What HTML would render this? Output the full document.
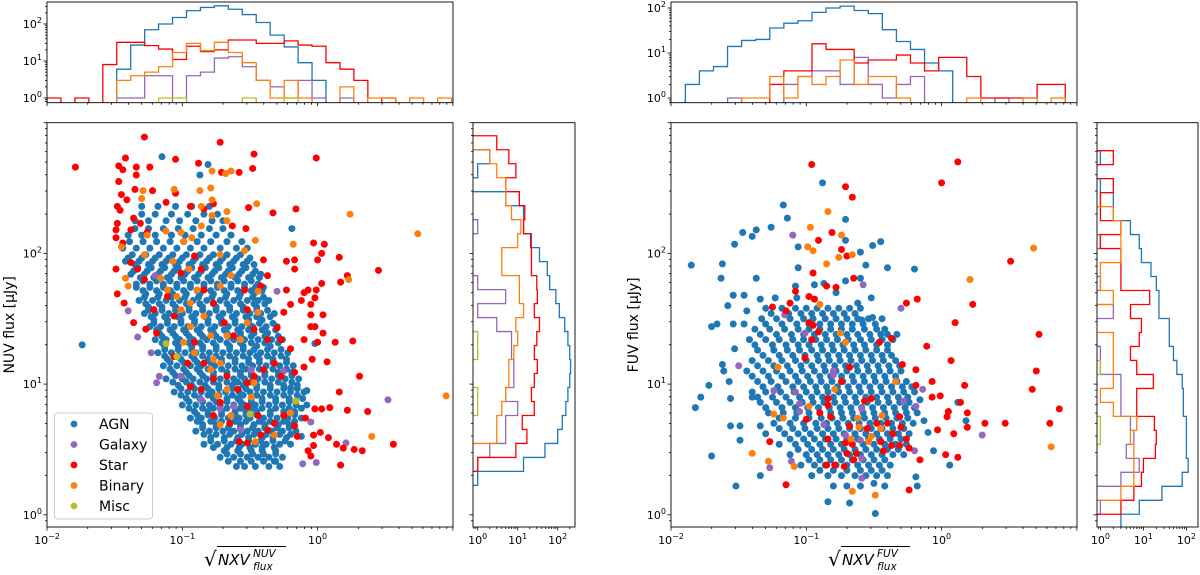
<!DOCTYPE html>
<html><head><meta charset="utf-8"><title>NXV vs flux</title>
<style>
html,body{margin:0;padding:0;background:#fff;width:1200px;height:575px;overflow:hidden}
svg{display:block;font-family:"DejaVu Sans","Liberation Sans",sans-serif}
</style></head>
<body>
<svg id="fig" width="1200" height="575" viewBox="0 0 1200 575" xmlns="http://www.w3.org/2000/svg"></svg>
<script>
// ===== DATA (log10 units) =====
// NUV panel — AGN dense rows: [log10 flux, log10 NXV, log10 NXV, ...]
const agnNuvRows = [
[2.36,-1.30,-1.18,-1.05,-0.93,-0.80],
[2.25,-1.35,-1.25,-1.12,-1.02,-0.90,-0.78,-0.70],
[2.14,-1.40,-1.30,-1.20,-1.08,-0.98,-0.86,-0.75,-0.64],
[2.04,-1.44,-1.34,-1.24,-1.14,-1.04,-0.94,-0.84,-0.72,-0.60,-0.52],
[1.99,-1.37,-1.27,-1.17,-1.07,-0.97,-0.87,-0.77,-0.67,-0.57],
[1.94,-1.42,-1.32,-1.22,-1.12,-1.02,-0.92,-0.82,-0.72,-0.62,-0.52],
[1.89,-1.33,-1.23,-1.13,-1.03,-0.93,-0.83,-0.73,-0.63,-0.53],
[1.84,-1.38,-1.28,-1.18,-1.08,-0.98,-0.88,-0.78,-0.68,-0.58,-0.48,-0.42],
[1.79,-1.29,-1.19,-1.09,-0.99,-0.89,-0.79,-0.69,-0.59,-0.49],
[1.74,-1.34,-1.24,-1.14,-1.04,-0.94,-0.84,-0.74,-0.64,-0.54,-0.46,-0.40],
[1.69,-1.27,-1.17,-1.07,-0.97,-0.87,-0.77,-0.67,-0.57,-0.47],
[1.64,-1.32,-1.22,-1.12,-1.02,-0.92,-0.82,-0.72,-0.62,-0.52,-0.44,-0.36],
[1.59,-1.25,-1.15,-1.05,-0.95,-0.85,-0.75,-0.65,-0.55,-0.45],
[1.54,-1.28,-1.20,-1.10,-1.00,-0.90,-0.80,-0.70,-0.60,-0.50,-0.42,-0.32],
[1.49,-1.21,-1.11,-1.01,-0.91,-0.81,-0.71,-0.61,-0.51,-0.41],
[1.44,-1.24,-1.16,-1.06,-0.96,-0.86,-0.76,-0.66,-0.56,-0.48,-0.38,-0.30],
[1.39,-1.17,-1.07,-0.97,-0.87,-0.77,-0.67,-0.57,-0.47,-0.37],
[1.34,-1.20,-1.12,-1.02,-0.92,-0.82,-0.72,-0.62,-0.54,-0.44,-0.34,-0.26],
[1.29,-1.13,-1.03,-0.93,-0.85,-0.75,-0.65,-0.55,-0.45,-0.35],
[1.24,-1.18,-1.08,-0.98,-0.90,-0.80,-0.70,-0.60,-0.50,-0.42,-0.32,-0.22],
[1.19,-1.11,-1.01,-0.91,-0.81,-0.71,-0.61,-0.51,-0.43,-0.33,-0.23],
[1.14,-1.14,-1.04,-0.94,-0.86,-0.76,-0.66,-0.56,-0.48,-0.38,-0.28,-0.18],
[1.09,-1.07,-0.97,-0.87,-0.77,-0.67,-0.57,-0.49,-0.39,-0.29,-0.19],
[1.04,-1.12,-1.00,-0.92,-0.82,-0.72,-0.62,-0.54,-0.44,-0.34,-0.24,-0.14],
[0.99,-1.03,-0.93,-0.83,-0.73,-0.63,-0.55,-0.45,-0.35,-0.25,-0.15],
[0.94,-1.06,-0.96,-0.86,-0.78,-0.68,-0.58,-0.50,-0.40,-0.30,-0.20,-0.10],
[0.89,-0.97,-0.87,-0.77,-0.67,-0.59,-0.49,-0.41,-0.31,-0.21,-0.11],
[0.84,-1.00,-0.90,-0.80,-0.72,-0.62,-0.54,-0.46,-0.36,-0.26,-0.16,-0.08],
[0.79,-0.91,-0.81,-0.71,-0.61,-0.53,-0.45,-0.35,-0.25,-0.17],
[0.74,-0.94,-0.86,-0.76,-0.66,-0.58,-0.50,-0.40,-0.30,-0.22,-0.12],
[0.69,-0.85,-0.75,-0.65,-0.57,-0.47,-0.39,-0.29,-0.21],
[0.64,-0.90,-0.80,-0.70,-0.62,-0.52,-0.44,-0.34,-0.26,-0.16],
[0.59,-0.79,-0.69,-0.59,-0.51,-0.41,-0.33,-0.23],
[0.54,-0.84,-0.74,-0.64,-0.56,-0.46,-0.38,-0.28,-0.20],
[0.49,-0.69,-0.59,-0.49,-0.41,-0.31],
[0.44,-0.72,-0.62,-0.52,-0.44,-0.36,-0.26],
[0.37,-0.60,-0.54,-0.46,-0.36,-0.28]
];
const agnNuvFill = [
[2.30,-1.30,-1.20,-1.08,-0.96,-0.84,-0.74],
[2.19,-1.35,-1.25,-1.14,-1.03,-0.92,-0.80,-0.70],
[2.09,-1.39,-1.29,-1.19,-1.09,-0.99,-0.89,-0.79,-0.67,-0.56],
[1.965,-1.40,-1.30,-1.20,-1.10,-1.00,-0.90,-0.80,-0.70,-0.60,-0.50],
[1.915,-1.35,-1.25,-1.15,-1.05,-0.95,-0.85,-0.75,-0.65,-0.55,-0.47],
[1.865,-1.36,-1.26,-1.16,-1.06,-0.96,-0.86,-0.76,-0.66,-0.56,-0.46],
[1.815,-1.31,-1.21,-1.11,-1.01,-0.91,-0.81,-0.71,-0.61,-0.51,-0.43],
[1.765,-1.34,-1.24,-1.14,-1.04,-0.94,-0.84,-0.74,-0.64,-0.54,-0.44],
[1.715,-1.29,-1.19,-1.09,-0.99,-0.89,-0.79,-0.69,-0.59,-0.49,-0.41],
[1.665,-1.28,-1.18,-1.08,-0.98,-0.88,-0.78,-0.68,-0.58,-0.48,-0.40],
[1.615,-1.27,-1.17,-1.07,-0.97,-0.87,-0.77,-0.67,-0.57,-0.47,-0.39],
[1.565,-1.25,-1.15,-1.05,-0.95,-0.85,-0.75,-0.65,-0.55,-0.45,-0.37],
[1.515,-1.23,-1.13,-1.03,-0.93,-0.83,-0.73,-0.63,-0.53,-0.45,-0.35],
[1.465,-1.21,-1.11,-1.01,-0.91,-0.81,-0.71,-0.61,-0.51,-0.43,-0.33],
[1.415,-1.19,-1.09,-0.99,-0.89,-0.79,-0.69,-0.59,-0.51,-0.41,-0.31],
[1.365,-1.15,-1.05,-0.95,-0.85,-0.75,-0.65,-0.57,-0.49,-0.39,-0.29],
[1.315,-1.15,-1.05,-0.95,-0.87,-0.77,-0.67,-0.57,-0.49,-0.39,-0.29],
[1.265,-1.13,-1.03,-0.93,-0.85,-0.75,-0.65,-0.55,-0.47,-0.37,-0.27],
[1.215,-1.13,-1.03,-0.93,-0.85,-0.75,-0.65,-0.55,-0.45,-0.37,-0.27],
[1.165,-1.09,-0.99,-0.89,-0.79,-0.71,-0.61,-0.51,-0.43,-0.33,-0.23],
[1.115,-1.09,-0.99,-0.89,-0.81,-0.71,-0.61,-0.53,-0.43,-0.33,-0.23],
[1.065,-1.05,-0.95,-0.85,-0.77,-0.67,-0.57,-0.49,-0.39,-0.29,-0.19],
[1.015,-1.07,-0.97,-0.87,-0.77,-0.67,-0.59,-0.49,-0.39,-0.29,-0.19],
[0.965,-1.01,-0.91,-0.81,-0.73,-0.63,-0.53,-0.45,-0.35,-0.25,-0.15],
[0.915,-1.01,-0.91,-0.81,-0.73,-0.63,-0.55,-0.45,-0.35,-0.25,-0.15],
[0.865,-0.95,-0.85,-0.75,-0.67,-0.57,-0.49,-0.41,-0.31,-0.21],
[0.815,-0.95,-0.85,-0.77,-0.67,-0.57,-0.49,-0.41,-0.31,-0.21,-0.12],
[0.765,-0.89,-0.81,-0.71,-0.61,-0.53,-0.45,-0.35,-0.25,-0.17],
[0.715,-0.89,-0.79,-0.71,-0.61,-0.53,-0.43,-0.35,-0.25,-0.17],
[0.665,-0.85,-0.75,-0.66,-0.57,-0.48,-0.39,-0.30,-0.21],
[0.615,-0.84,-0.75,-0.65,-0.56,-0.47,-0.38,-0.28,-0.20],
[0.565,-0.79,-0.69,-0.60,-0.51,-0.42,-0.33,-0.24],
[0.515,-0.77,-0.67,-0.58,-0.50,-0.41,-0.32],
[0.465,-0.67,-0.57,-0.48,-0.40,-0.31],
[0.41,-0.66,-0.57,-0.49,-0.40,-0.31]
];
// NUV panel scatter pairs: [log10 NXV, log10 flux]
const agnNuvExtra = [[-1.74,1.30],[-1.15,2.74],[-0.81,2.68],[-0.87,2.60],[-0.19,2.19],[-0.02,1.31],[-0.20,0.97],[-0.32,0.41],[-0.12,0.60],[-0.08,0.95]];
const galaxyNuv = [[-0.30,1.71],[-1.33,1.36],[-1.23,1.24],[-1.19,1.01],[-1.17,1.06],[-1.40,1.56],[-1.20,1.83],[-0.25,1.10],[0.52,0.88],[-0.05,0.71],[0.21,0.55],[-0.01,0.40],[-0.11,0.39],[-0.86,0.88],[-0.72,0.81],[-0.57,0.65],[-0.49,1.11],[-0.62,0.83],[-1.01,1.06]];
const starNuv = [[-1.79,2.66],[-1.28,2.89],[-0.72,2.85],[-0.47,2.76],[-0.01,2.73],[-1.42,2.73],[-1.47,2.67],[-1.34,2.66],[-1.24,2.66],[-1.05,2.72],[-0.88,2.69],[-0.58,2.62],[-0.48,2.65],[-0.71,2.62],[-1.44,2.64],[-1.34,2.60],[-1.47,2.55],[-1.35,2.49],[-1.22,2.48],[-1.45,2.45],[-1.41,2.41],[-1.48,2.36],[-1.46,2.33],[-1.48,2.23],[-1.49,2.18],[-1.49,2.12],[-1.44,2.08],[-1.38,2.18],[-1.36,2.27],[-1.31,2.23],[-1.26,2.16],[-1.12,2.39],[-1.05,2.46],[-0.94,2.36],[-0.84,2.34],[-0.77,2.38],[-0.63,2.21],[-0.53,2.19],[-0.51,2.35],[-0.33,2.31],[-0.16,2.34],[-1.49,1.88],[-1.48,1.69],[-1.43,1.62],[-1.36,1.47],[-1.38,1.93],[-1.33,1.88],[-1.28,1.80],[-1.27,1.42],[-1.19,1.39],[-1.21,1.57],[-1.11,1.67],[-1.06,1.52],[-1.01,1.85],[-0.91,1.98],[-0.86,1.88],[-0.84,1.72],[-0.77,1.62],[-0.69,1.47],[-0.62,1.37],[-0.54,1.72],[-0.52,1.57],[-0.47,1.42],[-0.40,1.95],[-0.37,1.83],[-0.42,1.75],[-0.23,1.94],[-0.17,1.95],[-0.17,1.88],[-0.03,2.08],[0.05,2.07],[0.03,2.00],[0.00,1.95],[0.16,1.97],[0.45,1.87],[0.17,1.78],[0.22,1.83],[0.03,1.77],[-0.01,1.72],[-0.07,1.72],[-0.10,1.70],[-0.23,1.72],[-0.20,1.61],[-0.12,1.64],[-0.05,1.61],[-0.02,1.66],[-0.05,1.53],[0.04,1.53],[-0.02,1.44],[0.04,1.39],[-0.05,1.44],[-0.25,1.55],[-0.30,1.43],[-0.37,1.34],[-0.27,1.34],[-0.20,1.27],[-0.10,1.34],[0.00,1.32],[0.13,1.32],[0.26,1.33],[0.07,1.17],[-0.04,1.19],[-0.10,1.13],[-0.17,1.09],[-0.27,1.06],[-0.32,1.16],[-0.40,1.11],[-0.47,1.06],[-0.52,1.01],[-0.59,0.96],[-0.67,1.06],[-0.77,1.04],[-0.84,1.16],[-0.94,0.98],[-0.96,1.16],[-0.91,1.32],[-1.06,1.21],[0.31,1.06],[0.16,0.94],[0.09,0.82],[0.22,0.80],[0.37,0.79],[0.03,0.81],[-0.02,0.81],[-0.09,0.74],[0.02,0.63],[0.08,0.59],[-0.03,0.61],[-0.15,0.60],[-0.03,0.53],[0.14,0.54],[0.19,0.51],[0.27,0.50],[0.33,0.49],[0.56,0.54],[-0.07,0.49],[-0.05,0.45],[0.17,0.38],[-0.17,0.68],[-0.25,0.76],[-0.32,0.70],[-0.37,0.65],[-0.44,0.76],[-0.52,0.83],[-0.58,0.56],[-0.52,0.55],[-0.42,0.61],[-0.65,0.70],[-0.77,0.76],[-0.72,0.86],[-0.86,0.96]];
const binaryNuv = [[-0.78,2.63],[-0.68,2.61],[-0.64,2.63],[-1.06,2.49],[-1.29,2.48],[-1.30,2.42],[-0.87,2.48],[-0.79,2.50],[-0.78,2.41],[-0.86,2.36],[-0.67,2.32],[-0.67,2.25],[-0.78,2.29],[-0.45,2.38],[0.24,2.30],[0.74,2.15],[-0.18,2.07],[-0.46,2.10],[-0.54,2.02],[-0.72,1.99],[-0.86,2.21],[-1.01,2.16],[-1.12,2.17],[-1.26,2.14],[-1.45,2.05],[-1.28,1.99],[-1.07,1.94],[-0.95,1.88],[-0.99,2.09],[-0.93,2.12],[0.23,1.80],[-0.44,1.71],[-0.64,1.83],[-0.72,1.75],[-0.89,1.72],[-0.94,1.62],[-1.01,1.57],[-1.04,1.67],[-1.11,1.72],[-1.16,1.81],[-1.42,1.81],[-1.40,1.75],[-0.84,1.52],[-0.94,1.44],[-0.79,1.37],[-0.67,1.37],[-0.57,1.34],[-0.52,1.47],[-0.44,1.55],[-0.99,1.32],[-0.91,1.24],[-0.77,1.19],[-0.72,1.16],[-0.79,1.11],[-0.47,1.01],[-0.67,0.96],[-0.74,0.91],[-0.49,0.90],[-0.64,0.76],[-0.72,0.69],[-0.32,0.61],[-0.46,0.56],[-0.20,0.78],[0.40,0.60],[0.95,0.91]];
const miscNuv = [[-1.12,1.31],[-1.04,1.21],[-0.50,0.77],[-0.16,0.87]];

// FUV panel — AGN dense rows: [log10 flux, log10 NXV, ...]
const agnFuvRows = [
[1.58,-1.30,-1.18,-1.08,-1.00,-0.92,-0.84,-0.76,-0.68,-0.60],
[1.50,-1.33,-1.22,-1.12,-1.02,-0.95,-0.86,-0.78,-0.70,-0.62,-0.54,-0.44],
[1.42,-1.38,-1.27,-1.16,-1.06,-0.98,-0.90,-0.82,-0.74,-0.66,-0.57,-0.48,-0.42],
[1.34,-1.42,-1.30,-1.20,-1.10,-1.02,-0.93,-0.85,-0.77,-0.69,-0.60,-0.52,-0.44,-0.36],
[1.26,-1.36,-1.24,-1.14,-1.05,-0.96,-0.88,-0.80,-0.72,-0.64,-0.56,-0.48,-0.40],
[1.18,-1.40,-1.28,-1.18,-1.08,-1.00,-0.91,-0.83,-0.75,-0.67,-0.59,-0.51,-0.43,-0.34],
[1.10,-1.44,-1.32,-1.22,-1.12,-1.03,-0.94,-0.86,-0.78,-0.70,-0.62,-0.54,-0.46,-0.38,-0.30],
[1.02,-1.36,-1.26,-1.15,-1.06,-0.97,-0.89,-0.81,-0.73,-0.65,-0.57,-0.49,-0.41,-0.33,-0.26],
[0.94,-1.40,-1.30,-1.19,-1.09,-1.00,-0.92,-0.84,-0.76,-0.68,-0.60,-0.52,-0.44,-0.36,-0.28,-0.20],
[0.86,-1.34,-1.22,-1.12,-1.03,-0.95,-0.87,-0.79,-0.71,-0.63,-0.55,-0.47,-0.39,-0.31,-0.24],
[0.78,-1.28,-1.17,-1.07,-0.98,-0.90,-0.82,-0.74,-0.66,-0.58,-0.50,-0.42,-0.34,-0.26,-0.18],
[0.70,-1.24,-1.12,-1.02,-0.93,-0.85,-0.77,-0.69,-0.61,-0.53,-0.45,-0.37,-0.29,-0.21],
[0.62,-1.30,-1.16,-1.06,-0.97,-0.88,-0.80,-0.72,-0.64,-0.56,-0.48,-0.40,-0.32,-0.24],
[0.54,-1.20,-1.08,-0.99,-0.90,-0.82,-0.74,-0.66,-0.58,-0.50,-0.42,-0.34,-0.26],
[0.46,-1.12,-1.00,-0.92,-0.84,-0.76,-0.68,-0.60,-0.52,-0.44,-0.36,-0.28],
[0.38,-1.04,-0.94,-0.86,-0.78,-0.70,-0.62,-0.54,-0.46,-0.38],
[0.30,-0.96,-0.84,-0.74,-0.64,-0.56,-0.48,-0.40],
[0.22,-0.80,-0.70,-0.60,-0.42]
];
const agnFuvFill = [
[1.54,-1.26,-1.13,-1.04,-0.96,-0.88,-0.80,-0.72,-0.64],
[1.46,-1.30,-1.18,-1.07,-0.98,-0.90,-0.82,-0.74,-0.66,-0.58,-0.49],
[1.38,-1.34,-1.22,-1.11,-1.02,-0.94,-0.86,-0.78,-0.70,-0.62,-0.53,-0.45],
[1.30,-1.38,-1.25,-1.15,-1.06,-0.98,-0.89,-0.81,-0.73,-0.65,-0.57,-0.48,-0.40],
[1.22,-1.32,-1.20,-1.10,-1.01,-0.92,-0.84,-0.76,-0.68,-0.60,-0.52,-0.44,-0.37],
[1.14,-1.36,-1.24,-1.14,-1.04,-0.96,-0.87,-0.79,-0.71,-0.63,-0.55,-0.47,-0.39,-0.31],
[1.06,-1.40,-1.28,-1.18,-1.08,-0.99,-0.90,-0.82,-0.74,-0.66,-0.58,-0.50,-0.42,-0.34],
[0.98,-1.32,-1.21,-1.10,-1.02,-0.93,-0.85,-0.77,-0.69,-0.61,-0.53,-0.45,-0.37,-0.29,-0.22],
[0.90,-1.36,-1.25,-1.15,-1.05,-0.96,-0.88,-0.80,-0.72,-0.64,-0.56,-0.48,-0.40,-0.32,-0.25],
[0.82,-1.30,-1.18,-1.08,-0.99,-0.91,-0.83,-0.75,-0.67,-0.59,-0.51,-0.43,-0.35,-0.27,-0.20],
[0.74,-1.20,-1.08,-0.98,-0.89,-0.81,-0.73,-0.65,-0.57,-0.49,-0.41,-0.33,-0.25],
[0.66,-1.20,-1.10,-1.01,-0.92,-0.84,-0.76,-0.68,-0.60,-0.52,-0.44,-0.36,-0.28],
[0.58,-1.12,-1.02,-0.94,-0.86,-0.78,-0.70,-0.62,-0.54,-0.46,-0.38,-0.30],
[0.50,-1.06,-0.96,-0.88,-0.80,-0.72,-0.64,-0.56,-0.48,-0.40,-0.32],
[0.42,-0.98,-0.90,-0.82,-0.74,-0.66,-0.58,-0.50,-0.42],
[0.34,-0.90,-0.80,-0.70,-0.60,-0.52,-0.44]
];
const agnFuvExtra = [[-1.85,1.91],[-1.62,1.92],[-1.63,1.81],[-1.53,2.07],[-1.47,2.16],[-1.40,2.13],[-1.37,2.18],[-1.26,2.20],[-1.17,2.37],[-1.14,2.27],[-0.88,2.54],[-0.71,2.26],[-0.71,2.10],[-0.60,2.01],[-0.51,2.06],[-0.45,2.09],[-0.56,1.91],[-0.40,1.89],[-0.20,1.88],[-1.06,2.05],[-1.06,1.89],[-1.37,1.81],[-1.58,1.60],[-1.54,1.68],[-1.46,1.68],[-1.44,1.56],[-1.70,1.44],[-1.66,1.46],[-1.54,1.46],[-1.46,1.46],[-1.53,1.27],[-1.62,1.15],[-1.61,1.10],[-1.57,1.02],[-1.72,0.99],[-1.78,0.90],[-1.82,0.82],[-1.56,0.89],[-1.40,0.90],[-1.56,0.68],[-1.49,0.57],[-1.49,0.68],[-1.34,0.68],[-1.70,0.45],[-1.52,0.22],[-1.34,0.30],[-0.84,0.10],[-0.68,0.09],[-0.49,0.01],[-0.50,0.24],[-0.18,0.22],[-0.19,0.29],[-0.06,0.49],[-0.10,0.63],[-0.13,0.72],[-0.16,0.88],[0.18,0.72],[0.06,0.38],[0.12,0.86],[-0.33,1.38],[-0.40,1.38],[-0.51,1.51],[-0.59,1.49],[-0.62,1.62],[-0.52,1.66],[-0.60,1.81],[-0.71,1.79],[-0.78,1.70],[-0.87,1.77],[-0.94,1.76],[-1.08,1.75],[-1.07,1.66],[-1.34,1.65],[-1.23,1.66]];
const galaxyFuv = [[-1.10,2.14],[-0.58,1.76],[-0.30,1.58],[-1.16,1.53],[-1.01,1.39],[-1.50,1.14],[-0.80,1.10],[-0.80,1.07],[-1.24,0.95],[-1.08,0.94],[-0.14,0.96],[-0.28,0.87],[-1.05,0.85],[-0.19,0.83],[-0.59,0.81],[-1.05,0.79],[-0.87,0.69],[-0.71,0.61],[-0.60,0.57],[0.30,0.61],[-0.20,0.49],[-0.59,0.43],[-1.11,0.41],[-1.27,0.36],[-0.59,0.28]];
const starFuv = [[-0.96,2.68],[0.12,2.70],[0.00,2.54],[-0.71,2.51],[-0.66,2.43],[-0.81,2.16],[-0.91,2.10],[-0.74,2.03],[-0.70,1.98],[0.51,1.94],[-0.95,1.85],[-0.65,1.81],[-0.85,1.75],[-0.78,1.74],[-1.08,1.71],[-0.98,1.67],[-0.94,1.65],[-1.12,1.62],[-1.25,1.59],[-1.15,1.56],[-0.26,1.62],[-0.18,1.65],[0.23,1.61],[0.10,1.47],[0.72,1.38],[-0.98,1.47],[-0.95,1.45],[-0.91,1.40],[-0.96,1.34],[-0.46,1.32],[-0.37,1.35],[-0.11,1.29],[-1.01,1.20],[0.07,1.18],[-0.29,1.15],[-0.19,1.11],[0.70,1.10],[-0.68,1.13],[-0.74,1.02],[-0.07,1.02],[0.17,0.99],[-0.19,0.99],[0.67,0.96],[-0.07,0.90],[-0.01,0.91],[0.14,0.86],[-0.57,0.87],[-0.52,0.89],[-0.84,0.89],[-0.84,0.84],[0.87,0.81],[0.19,0.78],[0.05,0.79],[0.04,0.75],[-0.90,0.78],[-0.82,0.75],[-1.00,0.73],[-0.31,0.75],[-0.40,0.70],[-0.48,0.70],[-0.55,0.66],[-0.68,0.68],[-0.30,0.67],[0.32,0.70],[0.47,0.70],[0.80,0.70],[0.19,0.67],[0.09,0.62],[-0.03,0.65],[-0.36,0.62],[-0.84,0.58],[-1.27,0.56],[-0.45,0.56],[-0.26,0.58],[-0.71,0.55],[-0.66,0.54],[-0.37,0.53],[-0.31,0.53],[-0.43,0.49],[-0.70,0.47],[-0.63,0.47],[-0.24,0.51],[0.03,0.46],[0.12,0.44],[-0.16,0.42],[-0.65,0.42],[-0.85,0.38],[-0.79,0.38],[-0.72,0.37],[-1.15,0.23],[-0.24,0.19]];
const binaryFuv = [[-0.84,2.32],[-0.97,2.20],[-0.74,2.14],[-0.99,2.05],[-0.95,2.02],[-0.76,1.97],[-0.66,1.99],[-0.85,1.92],[0.68,2.04],[0.21,1.80],[-0.90,1.61],[-0.75,1.39],[-0.71,1.32],[-1.21,1.13],[-0.34,1.02],[-0.79,0.96],[-0.98,0.83],[-1.24,0.77],[-1.17,0.74],[-0.62,0.74],[-0.44,0.76],[-0.61,0.67],[-0.45,0.66],[-0.52,0.60],[-0.67,0.58],[-0.54,0.56],[-1.40,0.47],[-1.28,0.41],[-1.09,0.37],[0.81,0.52],[-0.66,0.18],[-0.49,0.15]];
const miscFuv = [];

// Histograms — counts per bin
const nuvTopStart = -2.0, nuvTopWidth = 0.1031;
const nuvTopAgn    = [0,0,0,0,0,6,27,70,100,150,230,280,310,250,180,110,50,24,9,3,0,0,0,0,0,0,0,0,0];
const nuvTopGalaxy = [0,0,0,0,0,1,1,4,4,0,4,5,12,13,7,3,2,1,3,1,0,1,0,0,0,0,0,0,0];
const nuvTopStar   = [1,0,1,0,8,32,32,26,21,11,25,18,20,37,37,30,30,35,27,25,9,6,3,0,1,0,0,0,0];
const nuvTopBinary = [0,0,0,0,0,3,4,5,7,17,30,19,32,17,9,3,1,3,1,0,0,2,0,1,1,0,1,0,1];
const nuvTopMisc   = [0,0,0,0,0,0,0,0,1,1,0,0,0,0,1,0,0,1,0,0,0,0,0,0,0,0,0,0,0];

const nuvSideStart = 2.90, nuvSideWidth = 0.107;
const nuvSideAgn    = [0,2,1,0,5,14,14,22,35,55,63,90,110,150,180,200,210,200,180,160,130,100,48,14,1];
const nuvSideGalaxy = [0,0,0,0,0,0,1,0,0,0,1,5,1,3,7,7,8,8,5,10,5,5,2,1,0];
const nuvSideStar   = [3,6,9,5,11,15,14,21,22,22,30,31,26,35,30,26,31,26,22,26,13,17,9,1,0];
const nuvSideBinary = [0,2,3,5,5,7,12,10,4,4,11,11,14,9,10,8,6,6,5,4,3,3,0,0,0];
const nuvSideMisc   = [0,0,0,0,0,0,0,0,0,0,0,0,0,0,1,1,0,0,1,1,0,0,0,0,0];

const fuvTopStart = -1.894, fuvTopWidth = 0.104;
const fuvTopAgn    = [2,4,5,14,19,20,36,46,52,80,100,110,88,75,33,18,12,6,4,0,0,0,0,0,0,0,0];
const fuvTopGalaxy = [0,0,0,1,0,0,0,2,3,4,4,2,8,2,1,2,3,0,0,0,0,0,1,0,0,0,0];
const fuvTopStar   = [0,0,0,0,0,0,2,4,4,16,12,12,6,7,7,9,6,4,8,8,3,1,1,1,1,2,2];
const fuvTopBinary = [0,0,0,0,1,1,3,1,3,2,3,7,2,3,3,1,0,0,0,0,1,0,0,0,1,0,1];
const fuvTopMisc   = [];

const fuvSideStart = 2.786, fuvSideWidth = 0.107;
const fuvSideAgn    = [1,0,1,2,2,5,8,9,15,20,23,23,40,40,50,60,80,85,85,100,100,100,110,80,27,8,3];
const fuvSideGalaxy = [0,0,0,0,0,0,1,0,0,1,0,2,0,0,1,1,3,3,3,5,6,4,8,3,0,1,0];
const fuvSideStar   = [2,0,2,1,1,3,1,3,3,3,14,5,9,8,5,7,17,7,7,18,20,19,10,9,6,3,0];
const fuvSideBinary = [0,0,0,0,2,3,3,3,1,1,2,0,0,2,2,2,2,1,2,7,5,6,6,6,3,0,0];
const fuvSideMisc   = [0,0,0,0,0,0,0,0,0,0,0,0,0,0,0,1,0,0,0,1,1,0,0,0,0,0,0];

const legendLabels = ["AGN","Galaxy","Star","Binary","Misc"];
const xTickExps = [-2,-1,0];
const yTickExps = [0,1,2];
const histTickExps = [0,1,2];

// ===== RENDERING =====
const COL = {agn:"#1f77b4", galaxy:"#9467bd", star:"#ff0000", binary:"#ff7f0e", misc:"#bcbd22"};
const NS = "http://www.w3.org/2000/svg";
const svg = document.getElementById("fig");
function mk(tag, parent){ const e=document.createElementNS(NS,tag); (parent||svg).appendChild(e); return e; }
function set(e,a){ for(const k in a) e.setAttribute(k,a[k]); return e; }

const G = {
 nuv:{x0:47,x1:453,y0:122.7,y1:527, top:{y0:2,y1:102.7,ref:98,dec:37}, side:{x0:473,x1:575,ref:477.7,dec:40}},
 fuv:{x0:671,x1:1077,y0:122.7,y1:527, top:{y0:2,y1:102.7,ref:98,dec:45}, side:{x0:1097,x1:1198,ref:1100.4,dec:43}}
};
const XDEC = 135.3, YDEC = 130.7;
function xs(g,lx){ return g.x0 + (lx+2)*XDEC; }
function ys(g,ly){ return g.y0 + (3-ly)*YDEC; }
function topY(g,c){ return c>0 ? g.top.ref - Math.log10(c)*g.top.dec : g.top.y1+20; }
function sideX(g,c){ return c>0 ? g.side.ref + Math.log10(c)*g.side.dec : g.side.x0-20; }

let clipN=0;
function clip(x,y,w,h){ const id="c"+(clipN++); const cp=mk("clipPath"); cp.setAttribute("id",id); set(mk("rect",cp),{x:x,y:y,width:w,height:h}); return "url(#"+id+")"; }

function pow10Label(parent,x,y,exp,anchor){
  const t=mk("text",parent); set(t,{x:x,y:y,"font-size":11,fill:"#000","text-anchor":anchor});
  t.appendChild(document.createTextNode("10"));
  const s=mk("tspan",t); set(s,{dy:-5,"font-size":8}); s.textContent = exp<0 ? "\u2212"+(-exp) : String(exp);
  
  
  return t;
}
function line(parent,x1,y1,x2,y2,c,w){ return set(mk("line",parent),{x1:x1,y1:y1,x2:x2,y2:y2,stroke:c||"#000","stroke-width":w||0.8}); }

function logTicksX(parent,xOf,yBase,lo,hi,dir){
  for(let d=Math.floor(lo); d<=hi; d++){
    for(let m=1;m<10;m++){ const l=d+Math.log10(m); if(l<lo-1e-6||l>hi+1e-6) continue;
      const x=xOf(l); line(parent,x,yBase,x,yBase+dir*(m==1?3.5:2)); }
  }
}
function logTicksY(parent,yOf,xBase,lo,hi){
  for(let d=Math.floor(lo); d<=hi; d++){
    for(let m=1;m<10;m++){ const l=d+Math.log10(m); if(l<lo-1e-6||l>hi+1e-6) continue;
      const y=yOf(l); line(parent,xBase,y,xBase-(m==1?3.5:2),y); }
  }
}

function drawPanel(g, key, rows, extra, gal, star, bin, misc, topH, sideH, yTitle, supText){
  const grp=mk("g");  
  const main=mk("g",grp);  
  set(mk("rect",main),{x:g.x0,y:g.y0,width:g.x1-g.x0,height:g.y1-g.y0,fill:"#fff"});
  const pts=mk("g",main); pts.setAttribute("clip-path",clip(g.x0,g.y0,g.x1-g.x0,g.y1-g.y0));
   
  function dot(p,lx,ly,c,name){ const e=mk("circle",p); set(e,{cx:xs(g,lx),cy:ys(g,ly),r:3.5,fill:c});
    
     }
  const ag=mk("g",pts);  
  rows.forEach(r=>{ for(let i=1;i<r.length;i++) dot(ag,r[i],r[0],COL.agn,'agn-point'); });
  extra.forEach(p=>dot(ag,p[0],p[1],COL.agn,'agn-point'));
  const gg=mk("g",pts);  
  gal.forEach(p=>dot(gg,p[0],p[1],COL.galaxy,'galaxy-point'));
  const sg=mk("g",pts);  
  star.forEach(p=>dot(sg,p[0],p[1],COL.star,'star-point'));
  const bg=mk("g",pts);  
  bin.forEach(p=>dot(bg,p[0],p[1],COL.binary,'binary-point'));
  const mg=mk("g",pts);  
  misc.forEach(p=>dot(mg,p[0],p[1],COL.misc,'misc-point'));
  const lyMin = 3-(g.y1-g.y0)/YDEC, lxMax = -2+(g.x1-g.x0)/XDEC;
  const ax=mk("g",main);  
  logTicksX(ax,l=>xs(g,l),g.y1,-2,lxMax,1);
  logTicksY(ax,l=>ys(g,l),g.x0,lyMin,3);
  xTickExps.forEach(e=>pow10Label(ax,xs(g,e),g.y1+17,e,"middle"));
  yTickExps.forEach(e=>pow10Label(ax,g.x0-5,ys(g,e)+4,e,"end"));
  set(mk("rect",main),{x:g.x0,y:g.y0,width:g.x1-g.x0,height:g.y1-g.y0,fill:"none",stroke:"#000","stroke-width":0.9});
  const yt=mk("text",grp); const cy=(g.y0+g.y1)/2, cx=g.x0-33;
  set(yt,{x:cx,y:cy,transform:"rotate(-90 "+cx+" "+cy+")","text-anchor":"middle","font-size":14});
  yt.textContent=yTitle;
   
  const xt=mk("g",grp);  
  const mx=(g.x0+g.x1)/2-6;
  const r=mk("text",xt); set(r,{x:mx-40,y:566,"font-size":20}); r.textContent="\u221A";
  line(xt,mx-27,546.5,mx+42,546.5,"#000",1);
  const t=mk("text",xt); set(t,{x:mx-26,y:565,"font-size":15,"font-style":"italic"}); t.textContent="NXV";
  const sp=mk("text",xt); set(sp,{x:mx+9,y:557,"font-size":10.5,"font-style":"italic"}); sp.textContent=supText;
  const sb=mk("text",xt); set(sb,{x:mx+9,y:570,"font-size":10.5,"font-style":"italic"}); sb.textContent="flux";

  const th=mk("g",grp);  
  const tc=clip(g.x0,g.top.y0,g.x1-g.x0,g.top.y1-g.top.y0);
  const tl=mk("g",th); tl.setAttribute("clip-path",tc);
  function topStep(counts,start,w,c,name){
    if(!counts.length) return;
    let d="M"+xs(g,start)+","+(g.top.y1+20);
    counts.forEach((n,i)=>{ const y=topY(g,n); d+=" L"+xs(g,start+i*w)+","+y+" L"+xs(g,start+(i+1)*w)+","+y; });
    d+=" L"+xs(g,start+counts.length*w)+","+(g.top.y1+20);
    const p=mk("path",tl); set(p,{d:d,fill:"none",stroke:c,"stroke-width":1.3});
    
    
  }
  topH.forEach(h=>topStep(h[0],h[1],h[2],h[3],h[4]));
  logTicksX(th,l=>xs(g,l),g.top.y1,-2,lxMax,1);
  const tMin=-(g.top.y1-g.top.ref)/g.top.dec, tMax=(g.top.ref-g.top.y0)/g.top.dec;
  logTicksY(th,l=>g.top.ref-l*g.top.dec,g.x0,tMin,tMax);
  histTickExps.forEach(e=>pow10Label(th,g.x0-5,g.top.ref-e*g.top.dec+4,e,"end"));
  set(mk("rect",th),{x:g.x0,y:g.top.y0,width:g.x1-g.x0,height:g.top.y1-g.top.y0,fill:"none",stroke:"#000","stroke-width":0.9});

  const sh=mk("g",grp);  
  const sl=mk("g",sh); sl.setAttribute("clip-path",clip(g.side.x0,g.y0,g.side.x1-g.side.x0,g.y1-g.y0));
  function sideStep(counts,start,w,c,name){
    if(!counts.length) return;
    let d="M"+(g.side.x0-20)+","+ys(g,start);
    counts.forEach((n,i)=>{ const x=sideX(g,n); d+=" L"+x+","+ys(g,start-i*w)+" L"+x+","+ys(g,start-(i+1)*w); });
    d+=" L"+(g.side.x0-20)+","+ys(g,start-counts.length*w);
    const p=mk("path",sl); set(p,{d:d,fill:"none",stroke:c,"stroke-width":1.3});
    
    
  }
  sideH.forEach(h=>sideStep(h[0],h[1],h[2],h[3],h[4]));
  const sMin=-(g.side.ref-g.side.x0)/g.side.dec, sMax=(g.side.x1-g.side.ref)/g.side.dec;
  logTicksX(sh,l=>g.side.ref+l*g.side.dec,g.y1,sMin,sMax,1);
  logTicksY(sh,l=>ys(g,l),g.side.x0,lyMin,3);
  histTickExps.forEach(e=>pow10Label(sh,g.side.ref+e*g.side.dec,g.y1+17,e,"middle"));
  set(mk("rect",sh),{x:g.side.x0,y:g.y0,width:g.side.x1-g.side.x0,height:g.y1-g.y0,fill:"none",stroke:"#000","stroke-width":0.9});
}

drawPanel(G.nuv,"nuv",agnNuvRows.concat(agnNuvFill),agnNuvExtra,galaxyNuv,starNuv,binaryNuv,miscNuv,
 [[nuvTopAgn,nuvTopStart,nuvTopWidth,COL.agn,'agn-histogram'],[nuvTopGalaxy,nuvTopStart,nuvTopWidth,COL.galaxy,'galaxy-histogram'],
  [nuvTopStar,nuvTopStart,nuvTopWidth,COL.star,'star-histogram'],[nuvTopBinary,nuvTopStart,nuvTopWidth,COL.binary,'binary-histogram'],
  [nuvTopMisc,nuvTopStart,nuvTopWidth,COL.misc,'misc-histogram']],
 [[nuvSideAgn,nuvSideStart,nuvSideWidth,COL.agn,'agn-histogram'],[nuvSideGalaxy,nuvSideStart,nuvSideWidth,COL.galaxy,'galaxy-histogram'],
  [nuvSideStar,nuvSideStart,nuvSideWidth,COL.star,'star-histogram'],[nuvSideBinary,nuvSideStart,nuvSideWidth,COL.binary,'binary-histogram'],
  [nuvSideMisc,nuvSideStart,nuvSideWidth,COL.misc,'misc-histogram']],
 "NUV flux [\u03BCJy]","NUV");
drawPanel(G.fuv,"fuv",agnFuvRows.concat(agnFuvFill),agnFuvExtra,galaxyFuv,starFuv,binaryFuv,miscFuv,
 [[fuvTopAgn,fuvTopStart,fuvTopWidth,COL.agn,'agn-histogram'],[fuvTopGalaxy,fuvTopStart,fuvTopWidth,COL.galaxy,'galaxy-histogram'],
  [fuvTopStar,fuvTopStart,fuvTopWidth,COL.star,'star-histogram'],[fuvTopBinary,fuvTopStart,fuvTopWidth,COL.binary,'binary-histogram'],
  [fuvTopMisc,fuvTopStart,fuvTopWidth,COL.misc,'misc-histogram']],
 [[fuvSideAgn,fuvSideStart,fuvSideWidth,COL.agn,'agn-histogram'],[fuvSideGalaxy,fuvSideStart,fuvSideWidth,COL.galaxy,'galaxy-histogram'],
  [fuvSideStar,fuvSideStart,fuvSideWidth,COL.star,'star-histogram'],[fuvSideBinary,fuvSideStart,fuvSideWidth,COL.binary,'binary-histogram'],
  [fuvSideMisc,fuvSideStart,fuvSideWidth,COL.misc,'misc-histogram']],
 "FUV flux [\u03BCJy]","FUV");

const lg=mk("g");  
set(mk("rect",lg),{x:54.5,y:413,width:98,height:106,rx:3,fill:"#fff","fill-opacity":0.85,stroke:"#ccc","stroke-width":1});
const legCols=[COL.agn,COL.galaxy,COL.star,COL.binary,COL.misc];
legendLabels.forEach((lab,i)=>{
  const y=424+i*20.5;
  const en=mk("g",lg);
  
  
  set(mk("circle",en),{cx:74,cy:y,r:3.4,fill:legCols[i]});
  const t=mk("text",en); set(t,{x:99,y:y+5,"font-size":14}); t.textContent=lab;
});
</script>
</body></html>
